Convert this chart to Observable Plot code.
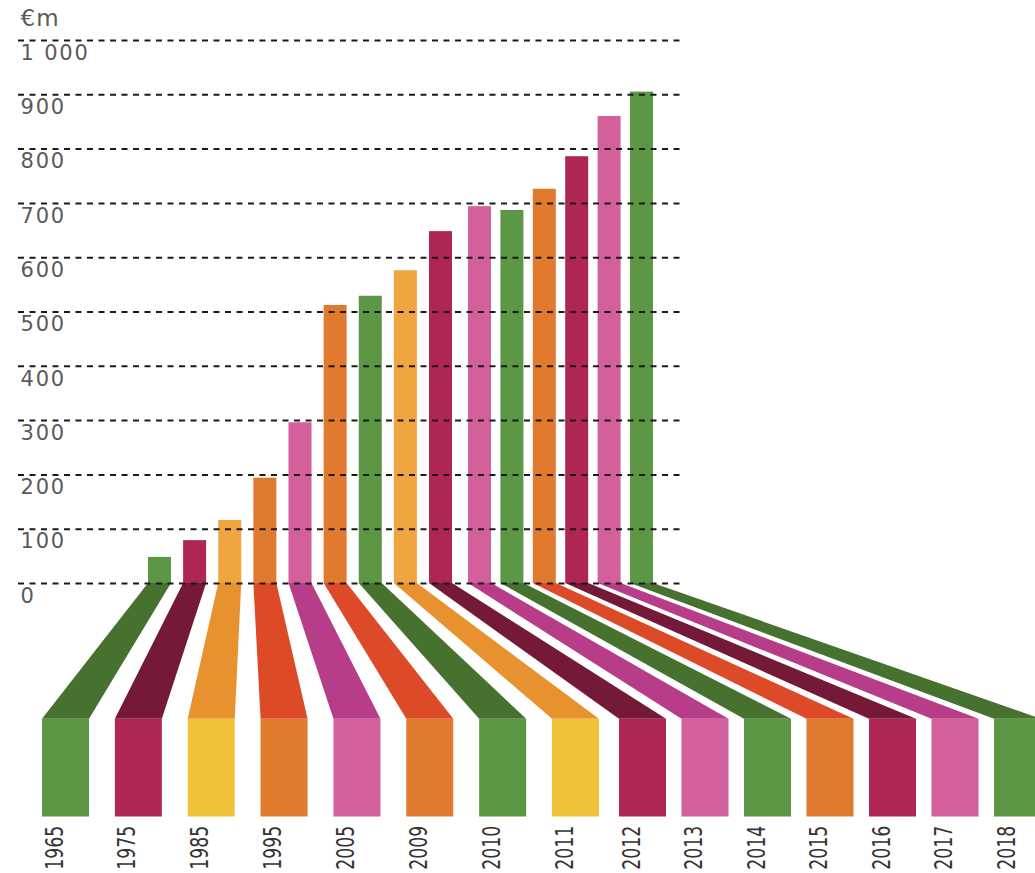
<!DOCTYPE html>
<html>
<head>
<meta charset="utf-8">
<script src="https://cdn.jsdelivr.net/npm/d3@7"></script>
<script src="https://cdn.jsdelivr.net/npm/@observablehq/plot@0.6"></script>
<style>
  body { margin: 0; background: #fff; }
  #chart svg { display: block; }
</style>
</head>
<body>
<div id="chart"></div>
<script>
// ---- data ----
const years = ["1965","1975","1985","1995","2005","2009","2010","2011","2012","2013","2014","2015","2016","2017","2018"];
const values = [48, 79, 116, 194, 296, 512, 529, 576, 648, 694, 687, 726, 786, 860, 905];
const colorGroups = ["green","crimson","gold","orange","pink","orange","green","gold","crimson","pink","green","orange","crimson","pink","green"];
const yTicks = [0, 100, 200, 300, 400, 500, 600, 700, 800, 900, 1000];
const yTickLabels = ["0","100","200","300","400","500","600","700","800","900","1 000"];
const unitLabel = "€m";

// ---- styles ----
const palette = {
  green:   {bar: "#5b9744", ribbon: "#47712f", block: "#5b9744"},
  crimson: {bar: "#ad2752", ribbon: "#741a38", block: "#ad2752"},
  gold:    {bar: "#efa640", ribbon: "#e8922f", block: "#f1c13a"},
  orange:  {bar: "#e07a2e", ribbon: "#dc4a28", block: "#e07a2e"},
  pink:    {bar: "#d35f9b", ribbon: "#b73d88", block: "#d35f9b"}
};

// ---- layout (piecewise slot positions) ----
const topLeft = d3.scaleLinear([0, 8, 9, 14], [148, 429, 468, 630]);
const barW = 23;
const botLeft = d3.scaleLinear([0, 7, 8, 14], [42, 552, 619, 994]);
const blockW = 47;
const ribbonEnd = -250;   // in value units below the zero line
const blockEnd = -430;
const labelTop = -446;

const rows = years.map((year, i) => ({
  year, value: values[i], group: colorGroups[i],
  xt: topLeft(i), xb: botLeft(i)
}));

const ribbons = rows.flatMap(d => [
  {year: d.year, group: d.group, y: 0, x1: d.xt, x2: d.xt + barW},
  {year: d.year, group: d.group, y: ribbonEnd, x1: d.xb, x2: d.xb + blockW}
]);

const chart = Plot.plot({
  width: 1035,
  height: 873,
  margin: 0,
  style: {fontFamily: "'DejaVu Sans', sans-serif", background: "#fff"},
  x: {domain: [0, 1035], range: [0, 1035], axis: null},
  y: {domain: [blockEnd, 1000], range: [816.5, 40], axis: null},
  color: {type: "identity"},
  marks: [
    Plot.areaX(ribbons, {y: "y", x1: "x1", x2: "x2", z: "year", fill: d => palette[d.group].ribbon}),
    Plot.rect(rows, {x1: "xb", x2: d => d.xb + blockW, y1: () => blockEnd, y2: () => ribbonEnd, fill: d => palette[d.group].block}),
    Plot.rect(rows, {x1: "xt", x2: d => d.xt + barW, y1: () => 0, y2: "value", fill: d => palette[d.group].bar}),
    Plot.ruleY(yTicks, {y: d => d, x1: () => 18, x2: () => 680, stroke: "#1a1a1a", strokeWidth: 2, strokeDasharray: "6,5.5"}),
    Plot.text(yTicks, {x: () => 20, y: d => d, text: (d, i) => yTickLabels[i], textAnchor: "start", dy: 12.5, fontSize: 21, fill: "#5a5a5a"}),
    Plot.text([unitLabel], {frameAnchor: "top-left", dx: 20, dy: 18, lineAnchor: "middle", fontSize: 23, fill: "#5a5a5a"}),
    Plot.text(rows, {x: d => d.xb + 12, y: () => labelTop, text: "year", rotate: -90, textAnchor: "end", fontSize: 25, fill: "#333", fontFamily: "'DejaVu Sans', sans-serif"})
  ]
});
const textGroups = chart.querySelectorAll('g[aria-label="text"]');
// tick labels: wide spacing like the reference
textGroups[0].style.letterSpacing = "1.8px";
textGroups[1].style.letterSpacing = "1px";
// condense the rotated year labels to the reference's narrow proportions
textGroups[2].querySelectorAll("text").forEach(t => {
  t.setAttribute("textLength", "44");
  t.setAttribute("lengthAdjust", "spacingAndGlyphs");
});
document.getElementById("chart").append(chart);
</script>
</body>
</html>
